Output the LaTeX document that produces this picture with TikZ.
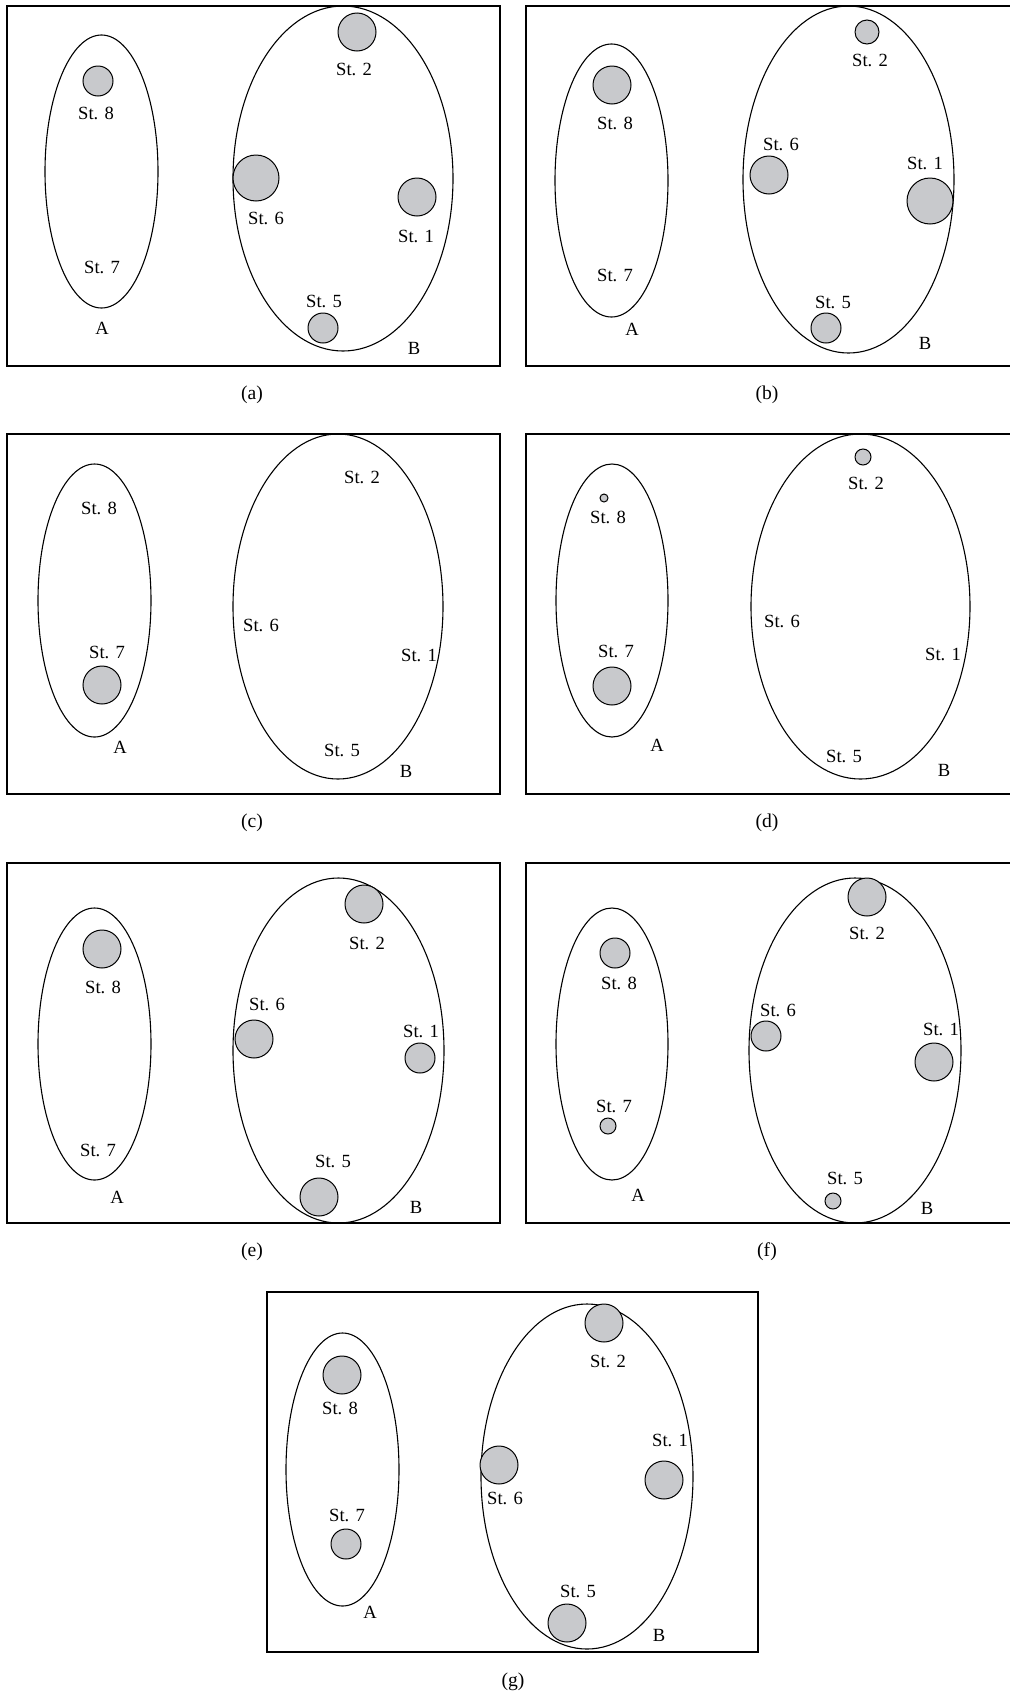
\documentclass[tikz,border=0pt]{standalone}
\usepackage{fontspec}
\setmainfont{Liberation Serif}
\usetikzlibrary{shapes.geometric}
\definecolor{stfill}{RGB}{200,201,204}
\begin{document}
\begin{tikzpicture}[x=0.5pt,y=-0.5pt,
  panel/.style={draw,line width=0.6pt},
  clus/.style 2 args={ellipse,draw,line width=0.55pt,inner sep=0pt,minimum width=#1*0.5pt,minimum height=#2*0.5pt},
  stn/.style={circle,draw,line width=0.5pt,fill=stfill,inner sep=0pt,minimum size=#1*0.5pt},
  lbl/.style={inner sep=0pt,font=\fontsize{9.3}{11}\selectfont},
  subcap/.style={inner sep=0pt,font=\fontsize{9.8}{12}\selectfont}]
\useasboundingbox (0,0) rectangle (1010,1692);
% ---------- (a)
\draw[panel] (7,6) rectangle (500,366);
\node[clus={113}{273}] (aA) at (101.5,171.5) {};
\node[clus={220}{345}] (aB) at (343,178.5) {};
\node[stn=30] (a8) at (98,81) {};
\node[stn=38] (a2) at (357,32) {};
\node[stn=46] (a6) at (256,178) {};
\node[stn=38] (a1) at (417,197) {};
\node[stn=30] (a5) at (323,328) {};
\node[lbl] (a8l) at (96,113) {St. 8};
\node[lbl] (a7l) at (102,267) {St. 7};
\node[lbl] (aAl) at (102,328) {A};
\node[lbl] (a2l) at (354,69) {St. 2};
\node[lbl] (a6l) at (266,218) {St. 6};
\node[lbl] (a1l) at (416,236) {St. 1};
\node[lbl] (a5l) at (324,301) {St. 5};
\node[lbl] (aBl) at (414,348) {B};
\node[subcap] (acap) at (252,395) {(a)};
% ---------- (b)
\draw[panel] (526,6) rectangle (1014,366);
\node[clus={113}{273}] (bA) at (611.5,180.5) {};
\node[clus={211}{347}] (bB) at (848.5,179.5) {};
\node[stn=38] (b8) at (612,85) {};
\node[stn=24] (b2) at (867,32) {};
\node[stn=38] (b6) at (769,175) {};
\node[stn=46] (b1) at (930,201) {};
\node[stn=30] (b5) at (826,328) {};
\node[lbl] (b8l) at (615,123) {St. 8};
\node[lbl] (b7l) at (615,275) {St. 7};
\node[lbl] (bAl) at (632,329) {A};
\node[lbl] (b2l) at (870,60) {St. 2};
\node[lbl] (b6l) at (781,144) {St. 6};
\node[lbl] (b1l) at (925,163) {St. 1};
\node[lbl] (b5l) at (833,302) {St. 5};
\node[lbl] (bBl) at (925,343) {B};
\node[subcap] (bcap) at (767,395) {(b)};
% ---------- (c)
\draw[panel] (7,434) rectangle (500,794);
\node[clus={113}{273}] (cA) at (94.5,600.5) {};
\node[clus={210}{345}] (cB) at (338,606.5) {};
\node[stn=38] (c7) at (102,685) {};
\node[lbl] (c8l) at (99,508) {St. 8};
\node[lbl] (c7l) at (107,652) {St. 7};
\node[lbl] (cAl) at (120,747) {A};
\node[lbl] (c2l) at (362,477) {St. 2};
\node[lbl] (c6l) at (261,625) {St. 6};
\node[lbl] (c1l) at (419,655) {St. 1};
\node[lbl] (c5l) at (342,750) {St. 5};
\node[lbl] (cBl) at (406,771) {B};
\node[subcap] (ccap) at (252,823) {(c)};
% ---------- (d)
\draw[panel] (526,434) rectangle (1014,794);
\node[clus={112}{273}] (dA) at (612,600.5) {};
\node[clus={219}{345}] (dB) at (860.5,606.5) {};
\node[stn=8] (d8) at (604,498) {};
\node[stn=38] (d7) at (612,686) {};
\node[stn=16] (d2) at (863,457) {};
\node[lbl] (d8l) at (608,517) {St. 8};
\node[lbl] (d7l) at (616,651) {St. 7};
\node[lbl] (dAl) at (657,745) {A};
\node[lbl] (d2l) at (866,483) {St. 2};
\node[lbl] (d6l) at (782,621) {St. 6};
\node[lbl] (d1l) at (943,654) {St. 1};
\node[lbl] (d5l) at (844,756) {St. 5};
\node[lbl] (dBl) at (944,770) {B};
\node[subcap] (dcap) at (767,823) {(d)};
% ---------- (e)
\draw[panel] (7,863) rectangle (500,1223);
\node[clus={113}{272}] (eA) at (94.5,1044) {};
\node[clus={211}{345}] (eB) at (338.5,1050.5) {};
\node[stn=38] (e8) at (102,949) {};
\node[stn=38] (e2) at (364,904) {};
\node[stn=38] (e6) at (254,1039) {};
\node[stn=30] (e1) at (420,1058) {};
\node[stn=38] (e5) at (319,1197) {};
\node[lbl] (e8l) at (103,987) {St. 8};
\node[lbl] (e7l) at (98,1150) {St. 7};
\node[lbl] (eAl) at (117,1197) {A};
\node[lbl] (e2l) at (367,943) {St. 2};
\node[lbl] (e6l) at (267,1004) {St. 6};
\node[lbl] (e1l) at (421,1031) {St. 1};
\node[lbl] (e5l) at (333,1161) {St. 5};
\node[lbl] (eBl) at (416,1207) {B};
\node[subcap] (ecap) at (252,1252) {(e)};
% ---------- (f)
\draw[panel] (526,863) rectangle (1014,1223);
\node[clus={112}{272}] (fA) at (612,1044) {};
\node[clus={212}{345}] (fB) at (855,1050.5) {};
\node[stn=30] (f8) at (615,953) {};
\node[stn=16] (f7) at (608,1126) {};
\node[stn=38] (f2) at (867,897) {};
\node[stn=30] (f6) at (766,1036) {};
\node[stn=38] (f1) at (934,1062) {};
\node[stn=16] (f5) at (833,1201) {};
\node[lbl] (f8l) at (619,983) {St. 8};
\node[lbl] (f7l) at (614,1106) {St. 7};
\node[lbl] (fAl) at (638,1195) {A};
\node[lbl] (f2l) at (867,933) {St. 2};
\node[lbl] (f6l) at (778,1010) {St. 6};
\node[lbl] (f1l) at (941,1029) {St. 1};
\node[lbl] (f5l) at (845,1178) {St. 5};
\node[lbl] (fBl) at (927,1208) {B};
\node[subcap] (fcap) at (767,1252) {(f)};
% ---------- (g)
\draw[panel] (267,1292) rectangle (758,1652);
\node[clus={113}{273}] (gA) at (342.5,1469.5) {};
\node[clus={212}{345}] (gB) at (587,1476.5) {};
\node[stn=38] (g8) at (342,1375) {};
\node[stn=30] (g7) at (346,1544) {};
\node[stn=38] (g2) at (604,1323) {};
\node[stn=38] (g6) at (499,1465) {};
\node[stn=38] (g1) at (664,1480) {};
\node[stn=38] (g5) at (567,1623) {};
\node[lbl] (g8l) at (340,1408) {St. 8};
\node[lbl] (g7l) at (347,1515) {St. 7};
\node[lbl] (gAl) at (370,1612) {A};
\node[lbl] (g2l) at (608,1361) {St. 2};
\node[lbl] (g6l) at (505,1498) {St. 6};
\node[lbl] (g1l) at (670,1440) {St. 1};
\node[lbl] (g5l) at (578,1591) {St. 5};
\node[lbl] (gBl) at (659,1635) {B};
\node[subcap] (gcap) at (513,1682) {(g)};
\end{tikzpicture}
\end{document}
